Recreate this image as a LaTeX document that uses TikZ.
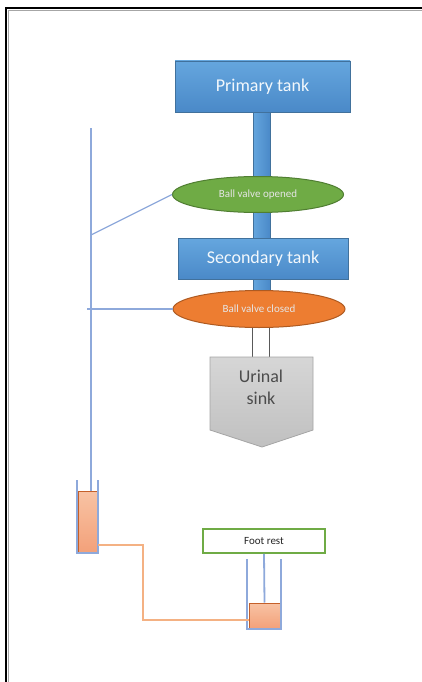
\documentclass[tikz,border=0pt]{standalone}
\usepackage{fontspec}
\setmainfont{Carlito}
\usetikzlibrary{shapes.geometric,calc}
\definecolor{tankA}{HTML}{65A6DE}
\definecolor{tankB}{HTML}{4A89C8}
\definecolor{tankD}{HTML}{41719C}
\definecolor{greenF}{HTML}{6FAB45}
\definecolor{greenD}{HTML}{507E32}
\definecolor{orangeF}{HTML}{ED7D31}
\definecolor{orangeD}{HTML}{AE5A21}
\definecolor{sinkA}{HTML}{D6D6D6}
\definecolor{sinkB}{HTML}{C0C0C0}
\definecolor{sinkD}{HTML}{A5A5A5}
\definecolor{leverC}{HTML}{8EA9DB}
\definecolor{pistA}{HTML}{F8C3A4}
\definecolor{pistB}{HTML}{F3A17A}
\definecolor{pistD}{HTML}{C5602A}
\definecolor{hoseC}{HTML}{F4B183}
\tikzset{
  tank/.style={draw=tankD, line width=0.8pt, top color=tankA, bottom color=tankB, text=white!92!tankA, inner sep=0pt, font=\fontsize{18}{21}\selectfont},
  pipe/.style={draw=tankD, line width=0.6pt, left color=tankA, right color=tankB},
  valve/.style={ellipse, inner sep=0pt, line width=1pt, text=white!90!black, font=\fontsize{11}{13}\selectfont},
  lever/.style={draw=leverC, line width=1.3pt},
  wall/.style={draw=leverC, line width=1.8pt},
  piston/.style={draw=pistD, line width=1pt, top color=pistA, bottom color=pistB, inner sep=0pt},
  hose/.style={draw=hoseC, line width=1.3pt},
  sinkline/.style={draw=black!65, line width=1pt}
}
\begin{document}
\begin{tikzpicture}[x=1pt,y=-1pt]
\useasboundingbox (0,0) rectangle (422,682);
\fill[white] (0,0) rectangle (422,682);
% frame
\draw[black!35, line width=1.2pt] (8.5,682) -- (8.5,10.5) -- (422,10.5);
\draw[black, line width=1.6pt] (6,682) -- (6,8) -- (422,8);

% pipes
\draw[pipe] (253,112) rectangle (270,182);
\draw[pipe] (253,208) rectangle (270,240);
\draw[pipe] (253,279) rectangle (270,293);

% sink lines
\coordinate (s1) at (252,320);
\coordinate (s2) at (269,320);
\draw[sinkline] (s1) -- (252,357);
\draw[sinkline] (s2) -- (269,357);

% tanks
\node[tank, minimum width=175pt, minimum height=51pt] (primary) at (262.5,86.5) {\raisebox{3pt}{Primary tank}};
\node[tank, minimum width=170pt, minimum height=41pt] (secondary) at (263,259) {\raisebox{3pt}{Secondary tank}};

% valves
\node[valve, draw=greenD, fill=greenF, minimum width=171pt, minimum height=36pt] (open) at (258,194.5) {Ball valve opened};
\node[valve, draw=orangeD, fill=orangeF, minimum width=172pt, minimum height=37pt] (closed) at (259,309) {Ball valve closed};

% urinal sink
\draw[draw=sinkD, line width=0.8pt, top color=sinkA, bottom color=sinkB]
  (210,357) -- (313,357) -- (313,430) -- (262,447) -- (210,430) -- cycle;
\node[text=black!70, font=\fontsize{18}{22}\selectfont, align=center] (sink) at (261,387) {Urinal\\sink};

% left cylinder and piston
\node[piston, minimum width=19pt, minimum height=61pt] (lp) at (87.5,521.5) {};
\draw[wall] (77,480) -- (77,553) -- (98,553) -- (98,480);

% lever
\coordinate (top) at (91,128);
\coordinate (j1) at (91,235);
\coordinate (j2) at (87,309);
\draw[lever] (top) -- (91,491);
\draw[lever] (j1) -- (open.west);
\draw[lever] (j2) -- (closed.west);

% foot rest
\node[draw=greenF, line width=1.6pt, fill=white, minimum width=122pt, minimum height=24pt, inner sep=0pt, font=\fontsize{11}{13}\selectfont, text=black!85] (foot) at (264,541) {Foot rest};

% lower cylinder and piston
\node[piston, minimum width=31pt, minimum height=25pt] (rp) at (264.5,615.5) {};
\draw[wall] (247,559) -- (247,629) -- (281,629) -- (281,559);
\draw[wall] (foot.south) -- (rp.north);

% hose
\coordinate (h0) at (98,545);
\draw[hose] (h0) -- (143,545) -- (143,620) -- (rp.west |- 0,620);
\end{tikzpicture}
\end{document}
